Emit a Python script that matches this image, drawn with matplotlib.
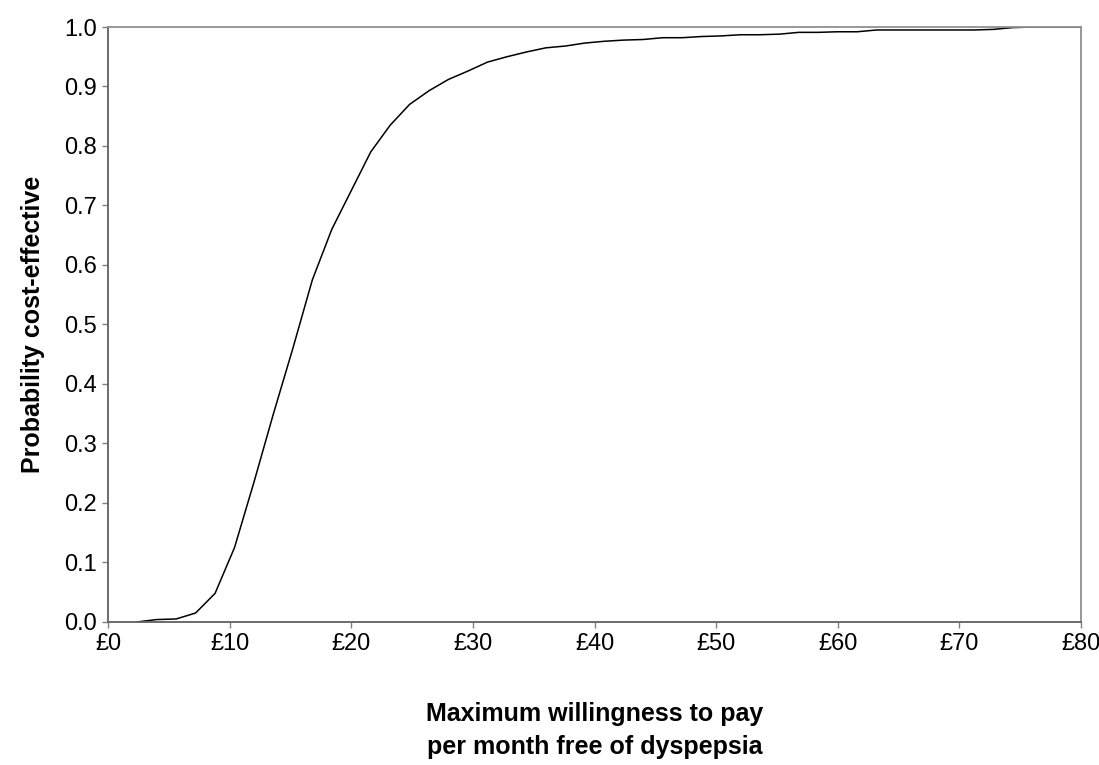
import matplotlib
matplotlib.use('Agg')
import matplotlib.pyplot as plt

# willingness to pay (GBP per month) vs probability cost-effective
wtp = [2.4, 4.0, 5.6, 7.2, 8.8, 10.4, 12.0, 13.6, 15.2, 16.8, 18.4, 20.0,
       21.6, 23.2, 24.8, 26.4, 28.0, 29.6, 31.2, 32.8, 34.4, 36.0, 37.6,
       39.2, 40.8, 42.4, 44.0, 45.6, 47.2, 48.8, 50.4, 52.0, 53.6, 55.2,
       56.8, 58.4, 60.0, 61.6, 63.2, 64.8, 66.4, 68.0, 69.6, 71.2, 72.8,
       74.4, 76.0, 77.6, 80.0]
prob = [0.0, 0.004, 0.005, 0.015, 0.048, 0.125, 0.235, 0.35, 0.46, 0.575,
        0.66, 0.725, 0.79, 0.835, 0.87, 0.893, 0.912, 0.926, 0.941, 0.95,
        0.958, 0.965, 0.968, 0.973, 0.976, 0.978, 0.979, 0.982, 0.982,
        0.984, 0.985, 0.987, 0.987, 0.988, 0.991, 0.991, 0.992, 0.992,
        0.995, 0.995, 0.995, 0.995, 0.995, 0.995, 0.996, 0.999, 1.0, 1.0, 1.0]

x_ticks = [0, 10, 20, 30, 40, 50, 60, 70, 80]
x_labels = ['£0', '£10', '£20', '£30', '£40', '£50', '£60', '£70', '£80']
y_ticks = [0.0, 0.1, 0.2, 0.3, 0.4, 0.5, 0.6, 0.7, 0.8, 0.9, 1.0]

fam = ['Liberation Sans Narrow', 'DejaVu Sans Condensed', 'Liberation Sans', 'DejaVu Sans']
plt.rcParams['font.family'] = fam

fig = plt.figure(figsize=(10.99, 7.65), dpi=100)
ax = fig.add_axes([0.0983, 0.187, 0.8853, 0.7777])

ax.plot(wtp, prob, color='black', linewidth=1.1)

ax.set_xlim(0, 80)
ax.set_ylim(0, 1.0)
ax.set_xticks(x_ticks)
ax.set_xticklabels(x_labels)
ax.set_yticks(y_ticks)
ax.set_yticklabels(['%.1f' % v for v in y_ticks])
ax.tick_params(labelsize=17, length=4, width=1, color='#808080', pad=4)

for s in ['left', 'bottom']:
    ax.spines[s].set_color('#606060')
    ax.spines[s].set_linewidth(1.3)
for s in ['top', 'right']:
    ax.spines[s].set_color('#909090')
    ax.spines[s].set_linewidth(1.3)

ax.set_ylabel('Probability cost-effective', fontsize=18, fontweight='bold', labelpad=14)
ax.set_xlabel('Maximum willingness to pay\nper month free of dyspepsia',
              fontsize=18, fontweight='bold', labelpad=34, linespacing=1.45)

fig.savefig('out.png', dpi=100, facecolor='white')
